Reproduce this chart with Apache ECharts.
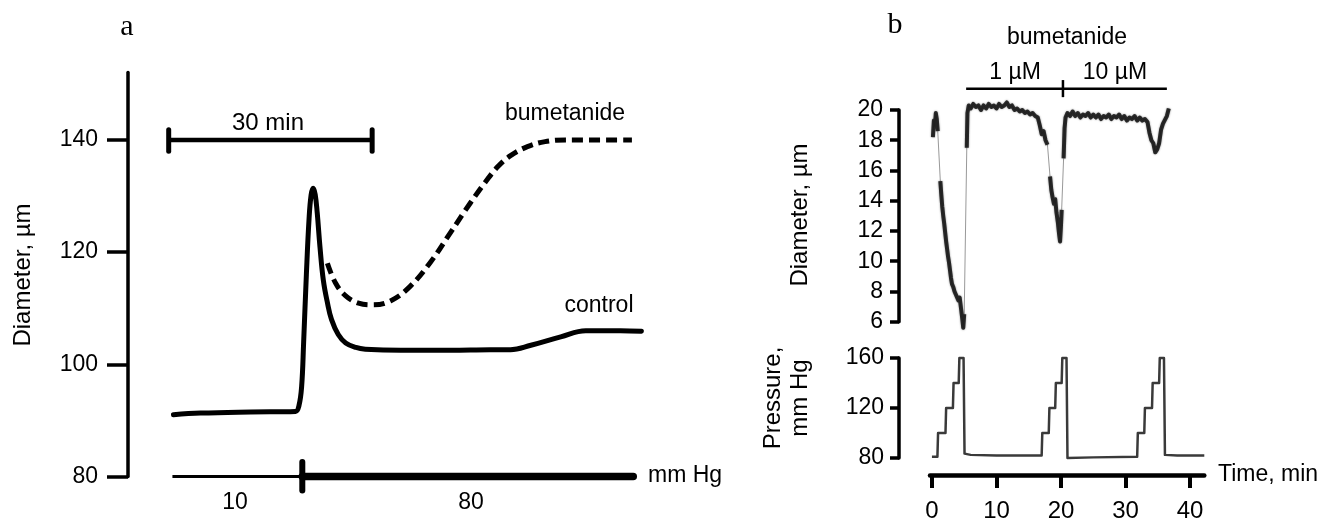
<!DOCTYPE html>
<html><head><meta charset="utf-8">
<script src="https://cdn.jsdelivr.net/npm/echarts@6/dist/echarts.min.js"></script>
<style>html,body{margin:0;padding:0;background:#fff}#c{width:1327px;height:518px}</style>
</head><body><div id="c"></div>
<script>
// ---------- Panel a data (time in min, diameter in µm) ----------
const aYTicks = [80, 100, 120, 140];
const aControl = [[0.7,91.0],[4.7,91.3],[12.1,91.5],[18.7,91.6],[19.2,92.6],[19.6,96],[19.9,104],[20.3,116],[20.7,126],[21.0,130.2],[21.3,131.4],[21.6,130.3],[21.9,127],[22.3,121],[22.8,115],[23.4,111],[24.0,108],[25.0,105.3],[26.1,103.8],[27.6,103.0],[29.0,102.7],[34.2,102.5],[41.6,102.5],[47.4,102.6],[50.4,102.6],[53.4,103.4],[57.8,104.9],[61.5,106.0],[66.6,106.0],[69.7,105.9]];
const aBumetanide = [[23.4,118.0],[24.6,114.5],[26.1,112.2],[28.0,110.9],[30.0,110.6],[32.7,111.3],[35.6,113.9],[38.6,118.2],[41.5,123.4],[44.5,128.8],[46.7,132.5],[48.5,135.2],[50.4,137.2],[52.9,138.8],[55.5,139.7],[58.5,140.0],[68.3,140.0]];
const aScaleBar = [[0,140],[30,140]];
const aScaleCapL = [[0,138.0],[0,141.8]];
const aScaleCapR = [[30,138.0],[30,141.8]];
const aPressureLow = [[0.55,80],[19.7,80]];
const aPressureHigh = [[19.7,80],[68.5,80]];
const aPressureSwitch = [[19.7,77.5],[19.7,82.6]];

// ---------- Panel b data (time in min) ----------
const bTimeTicks = [0, 10, 20, 30, 40];
const bDiamTicks = [6, 8, 10, 12, 14, 16, 18, 20];
const bPressTicks = [80, 120, 160];
const bDiameter = [[0.15,18.2],[0.3,19.3],[0.45,18.9],[0.6,19.8],[0.75,19.4],[0.9,18.6],[1.15,null],
[1.3,15.3],[1.45,14.4],[1.6,13.6],[1.75,13.0],[1.9,12.5],[2.05,11.9],[2.2,11.3],[2.35,10.8],[2.5,10.3],[2.65,9.9],[2.8,9.4],[2.95,8.9],[3.1,8.5],[3.3,8.3],[3.5,8.0],[3.7,7.8],[3.9,7.9],[4.1,7.4],[4.3,7.6],[4.5,6.9],[4.7,6.2],[4.85,5.6],[5.0,6.5],[5.15,null],
[5.4,17.5],[5.5,19.8],[5.7,20.3],[6.0,20.1],[6.4,20.4],[6.8,20.2],[7.2,20.3],[7.6,20.0],[8.0,20.3],[8.4,20.1],[8.8,20.4],[9.2,20.2],[9.6,20.3],[10.0,20.1],[10.4,20.4],[10.8,20.2],[11.2,20.3],[11.6,20.5],[12.0,20.2],[12.4,20.3],[12.8,20.0],[13.2,20.1],[13.6,19.9],[14.0,20.0],[14.4,19.8],[14.8,19.9],[15.2,19.7],[15.6,19.8],[16.0,19.6],[16.4,19.5],[16.7,19.0],[17.0,18.4],[17.3,18.6],[17.6,18.0],[17.9,17.7],[18.05,null],
[18.3,15.6],[18.5,14.7],[18.7,14.2],[18.9,13.8],[19.1,14.1],[19.3,13.2],[19.5,12.6],[19.7,11.8],[19.85,11.3],[20.0,12.4],[20.1,13.4],[20.25,null],
[20.4,16.8],[20.55,18.8],[20.7,19.5],[21.0,19.8],[21.4,19.6],[21.8,19.9],[22.2,19.6],[22.6,19.8],[23.0,19.5],[23.4,19.7],[23.8,19.6],[24.2,19.8],[24.6,19.5],[25.0,19.7],[25.4,19.5],[25.8,19.7],[26.2,19.4],[26.6,19.6],[27.0,19.5],[27.4,19.7],[27.8,19.4],[28.2,19.6],[28.6,19.5],[29.0,19.7],[29.4,19.4],[29.8,19.6],[30.2,19.3],[30.6,19.5],[31.0,19.4],[31.4,19.6],[31.8,19.3],[32.2,19.5],[32.6,19.3],[33.0,19.4],[33.4,19.2],[33.7,18.5],[34.0,18.0],[34.3,17.8],[34.6,17.2],[34.9,17.4],[35.2,17.8],[35.5,18.7],[35.8,19.1],[36.1,19.0],[36.4,19.6],[36.7,20.1]];
const bPressure = [[0,81],[0.85,81],[0.95,100],[2.1,100],[2.2,120],[3.25,120],[3.35,140],[4.15,140],[4.25,160],[4.9,160],[5.05,83.5],[6,82.5],[10,82],[17.0,82],[17.1,100],[18.1,100],[18.2,120],[19.1,120],[19.2,140],[20.1,140],[20.2,160],[20.85,160],[21.0,80],[25,80.5],[31.8,81],[31.9,100],[32.9,100],[33.0,120],[34.1,120],[34.2,140],[35.2,140],[35.3,160],[35.95,160],[36.1,82.5],[38,82],[42.2,82]];
const bDrugBar = [[5.3,21.4],[36.4,21.4]];
const bDrugSwitch = [[20.3,20.85],[20.3,21.98]];

// ---------- rendering ----------
const FONT = "'Liberation Sans', Arial, sans-serif";
const SERIF = "'Liberation Serif', 'Times New Roman', serif";
const chart = echarts.init(document.getElementById('c'), null, {renderer: 'canvas'});

function line(data, xi, yi, style, extra) {
  return Object.assign({type: 'line', data, xAxisIndex: xi, yAxisIndex: yi, symbol: 'none',
    clip: false, silent: true, animation: false, lineStyle: style}, extra || {});
}
function txt(text, x, y, size, opts) {
  return Object.assign({type: 'text', x, y, silent: true,
    style: Object.assign({text, fill: '#000', font: size + 'px ' + FONT, textAlign: 'center', textVerticalAlign: 'middle'}, (opts && opts.style) || {})},
    (opts && opts.el) || {});
}
const yAx = (gi, min, max, ticks, tickLen, margin, offset, fs) => ({
  type: 'value', gridIndex: gi, min, max, offset: offset || 0,
  axisLine: {show: true, onZero: false, lineStyle: {color: '#000', width: 3.5}},
  axisTick: {show: true, customValues: ticks, length: tickLen, lineStyle: {color: '#000', width: 3.5}},
  axisLabel: {show: true, customValues: ticks, margin, color: '#000', fontSize: fs, fontFamily: FONT},
  splitLine: {show: false}
});

const option = {
  backgroundColor: '#fff',
  animation: false,
  grid: [
    {left: 128, top: 72.6, width: 529, height: 403.9, outerBoundsMode: 'none', containLabel: false},
    {left: 930, top: 110, width: 274.3, height: 211.7, outerBoundsMode: 'none', containLabel: false},
    {left: 930, top: 358, width: 274.3, height: 100, outerBoundsMode: 'none', containLabel: false}
  ],
  xAxis: [
    {type: 'value', gridIndex: 0, min: -6, max: 72, show: false},
    {type: 'value', gridIndex: 1, min: -0.3, max: 42.2, show: false},
    {type: 'value', gridIndex: 2, min: -0.3, max: 42.2, offset: 17,
      axisLine: {show: true, onZero: false, lineStyle: {color: '#000', width: 4.5}},
      axisTick: {show: true, customValues: bTimeTicks, length: 13, lineStyle: {color: '#000', width: 4}},
      axisLabel: {show: true, customValues: bTimeTicks, margin: 24, color: '#000', fontSize: 24, fontFamily: FONT},
      splitLine: {show: false}}
  ],
  yAxis: [
    yAx(0, 80, 152, aYTicks, 21, 30, 0, 23),
    yAx(1, 6, 20, bDiamTicks, 9, 16, 31, 23),
    yAx(2, 80, 160, bPressTicks, 9, 15, 31, 23)
  ],
  series: [
    line(aControl, 0, 0, {color: '#000', width: 5, cap: 'round', join: 'round'}, {smooth: 0.4}),
    line(aBumetanide, 0, 0, {color: '#000', width: 5, type: [11, 6]}, {smooth: 0.4}),
    line(aScaleBar, 0, 0, {color: '#000', width: 4.5}),
    line(aScaleCapL, 0, 0, {color: '#000', width: 5, cap: 'round'}),
    line(aScaleCapR, 0, 0, {color: '#000', width: 5, cap: 'round'}),
    line(aPressureLow, 0, 0, {color: '#000', width: 3}),
    line(aPressureHigh, 0, 0, {color: '#000', width: 7.5, cap: 'round'}),
    line(aPressureSwitch, 0, 0, {color: '#000', width: 6, cap: 'round'}),
    line(bDiameter, 1, 1, {color: '#999', width: 1}, {connectNulls: true}),
    line(bDiameter, 1, 1, {color: '#1a1a1a', width: 4, opacity: 0.9, join: 'round', shadowBlur: 2, shadowColor: 'rgba(0,0,0,0.5)'}),
    line(bDrugBar, 1, 1, {color: '#000', width: 2.5}),
    line(bDrugSwitch, 1, 1, {color: '#000', width: 2.5}),
    line(bPressure, 2, 2, {color: '#3a3a3a', width: 2.5, join: 'round'})
  ],
  graphic: [
    txt('a', 127, 27, 30, {style: {font: '30px ' + SERIF}}),
    txt('b', 895, 25, 30, {style: {font: '30px ' + SERIF}}),
    txt('Diameter, µm', 23, 275, 24, {el: {rotation: Math.PI / 2}}),
    txt('30 min', 268, 123, 24),
    txt('bumetanide', 565, 114, 23),
    txt('control', 599, 306, 23),
    txt('10', 235, 503, 23),
    txt('80', 471, 503, 23),
    txt('mm Hg', 648, 476, 23, {style: {textAlign: 'left'}}),
    txt('Diameter, µm', 800, 215, 24, {el: {rotation: Math.PI / 2}}),
    txt('Pressure,\nmm Hg', 787, 398, 24, {el: {rotation: Math.PI / 2}, style: {lineHeight: 27}}),
    txt('bumetanide', 1067, 38, 23),
    txt('1 µM', 1015, 73, 23),
    txt('10 µM', 1115, 73, 23),
    txt('Time, min', 1218, 475, 23, {style: {textAlign: 'left'}})
  ]
};
chart.setOption(option);
</script>
</body></html>
